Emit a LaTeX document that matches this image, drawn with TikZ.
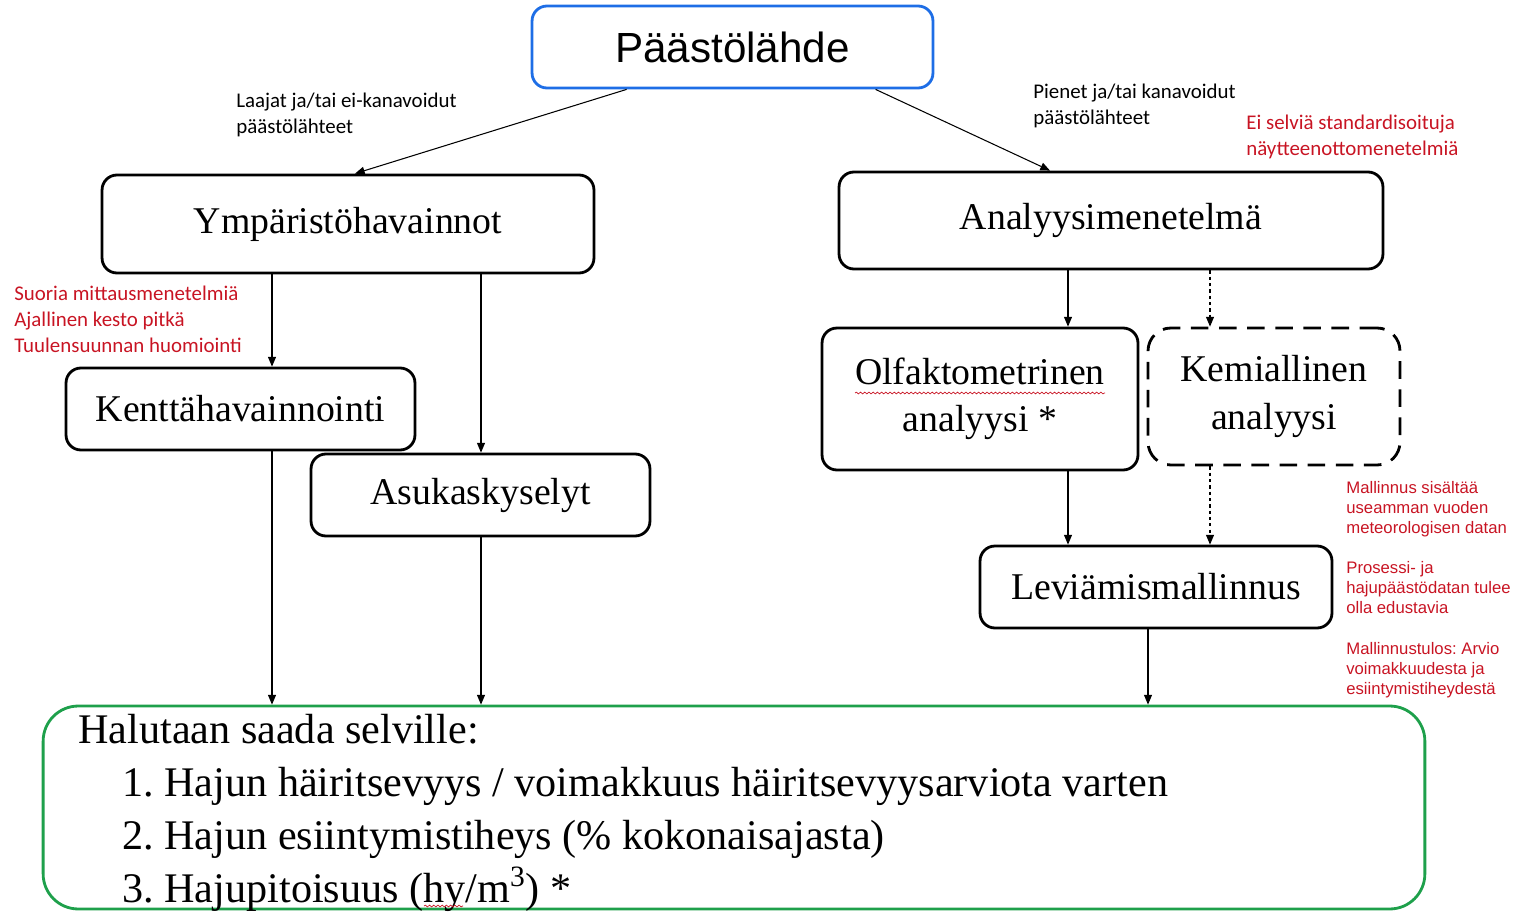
\documentclass[tikz,border=0pt]{standalone}
\usepackage{fontspec}
\setmainfont{Liberation Serif}
\setsansfont{Liberation Sans}
\newfontfamily\calfont{Carlito}
\usetikzlibrary{arrows.meta, calc, positioning, decorations.pathmorphing}
\definecolor{notered}{RGB}{200,20,35}
\definecolor{srcblue}{RGB}{30,110,230}
\definecolor{goalgreen}{RGB}{30,160,75}
\frenchspacing

\begin{document}
\begin{tikzpicture}[x=0.02cm, y=-0.02cm,
  box/.style={draw, line width=1.6pt, rounded corners=8.5pt, align=center, inner sep=0pt, font=\fontsize{21.5}{26.9}\selectfont},
  dashbox/.style={box, dash pattern=on 10pt off 6pt, rounded corners=13pt},
  arr/.style={-{Triangle[length=5.5pt, width=4.5pt]}, line width=0.6pt},
  dasharr/.style={arr, dash pattern=on 1.8pt off 1.8pt},
  label/.style={font=\calfont\fontsize{11.9}{14.8}\selectfont, align=left, anchor=north west, inner sep=0pt},
  redlabel/.style={label, text=notered},
  sidenote/.style={font=\sffamily\fontsize{9.5}{11.4}\selectfont, text=notered, align=left, anchor=north west, inner sep=0pt},
  squiggle/.style={notered, line width=0.4pt, decorate, decoration={snake, amplitude=0.5pt, segment length=2.4pt}}
]
\useasboundingbox (0,0) rectangle (1517,912);

% Source
\node[box, draw=srcblue, font=\sffamily\fontsize{24}{28}\selectfont, minimum width=8.02cm, minimum height=1.64cm] (src) at (732.5,47) {Päästölähde};

% Main branches
\node[box, minimum width=9.84cm, minimum height=1.96cm] (ymp) at (348,224) {Ympäristöhavainnot};
\node[box, minimum width=10.88cm, minimum height=1.94cm] (ana) at (1111,220.5) {Analyysimenetelmä};

% Left branch
\node[box, minimum width=6.98cm, minimum height=1.64cm] (kentta) at (240.5,409) {Kenttähavainnointi};
\node[box, minimum width=6.78cm, minimum height=1.64cm] (asukas) at (480.5,495) {Asukaskyselyt};

% Right branch
\node[box, minimum width=6.32cm, minimum height=2.84cm] (olf) at (980,399) {Olfaktometrinen\\analyysi *};
\node[dashbox, minimum width=5.04cm, minimum height=2.74cm] (kem) at (1274,396.5) {Kemiallinen\\analyysi};
\node[box, minimum width=7.04cm, minimum height=1.64cm] (lev) at (1156,587) {Leviämismallinnus};

% Result
\node[draw=goalgreen, line width=1.6pt, rounded corners=20pt, minimum width=27.64cm, minimum height=4.06cm] (goal) at (734,807.5) {};
\node[anchor=north west, inner sep=0pt, align=left, font=\fontsize{24}{30.2}\selectfont] (goaltext) at (78,714)
  {Halutaan saada selville:\\
   \hspace*{0.88cm}1. Hajun häiritsevyys / voimakkuus häiritsevyysarviota varten\\
   \hspace*{0.88cm}2. Hajun esiintymistiheys (\% kokonaisajasta)\\
   \hspace*{0.88cm}3. Hajupitoisuus (hy/m\textsuperscript{3}) *};

% Labels
\node[label] (wide) at (236,93) {Laajat ja/tai ei-kanavoidut\\päästölähteet};
\node[label] (small) at (1033,84) {Pienet ja/tai kanavoidut\\päästölähteet};
\node[redlabel] (nostd) at (1246,115) {Ei selviä standardisoituja\\näytteenottomenetelmiä};
\node[redlabel] (direct) at (14,286) {Suoria mittausmenetelmiä\\Ajallinen kesto pitkä\\Tuulensuunnan huomiointi};
\node[sidenote] (note1) at (1346,481) {Mallinnus sisältää\\useamman vuoden\\meteorologisen datan};
\node[sidenote] (note2) at (1346,561) {Prosessi- ja\\hajupäästödatan tulee\\olla edustavia};
\node[sidenote] (note3) at (1346,642) {Mallinnustulos: Arvio\\voimakkuudesta ja\\esiintymistiheydestä};

% Arrow columns
\coordinate (xa) at (272,0);
\coordinate (xb) at (481,0);
\coordinate (xc) at (1068,0);
\coordinate (xd) at (1210,0);
\coordinate (xe) at (1148,0);

% Connectors
\draw[arr] ([xshift=1.92cm]src.south west) -- ([xshift=0.14cm]ymp.north);
\draw[arr] ([xshift=6.9cm]src.south west) -- ([xshift=-1.22cm]ana.north);
\draw[arr] (ymp.south -| xa) -- (kentta.north -| xa);
\draw[arr] (ymp.south -| xb) -- (asukas.north -| xb);
\draw[arr] (kentta.south -| xa) -- (goal.north -| xa);
\draw[arr] (asukas.south -| xb) -- (goal.north -| xb);
\draw[arr] (ana.south -| xc) -- (olf.north -| xc);
\draw[dasharr] (ana.south -| xd) -- (kem.north -| xd);
\draw[arr] (olf.south -| xc) -- (lev.north -| xc);
\draw[dasharr] (kem.south -| xd) -- (lev.north -| xd);
\draw[arr] (lev.south -| xe) -- (goal.north -| xe);

% Spell-check marks
\draw[squiggle] (855,393) -- (1105,393);
\draw[squiggle] (424,906) -- (463,906);
\end{tikzpicture}
\end{document}
